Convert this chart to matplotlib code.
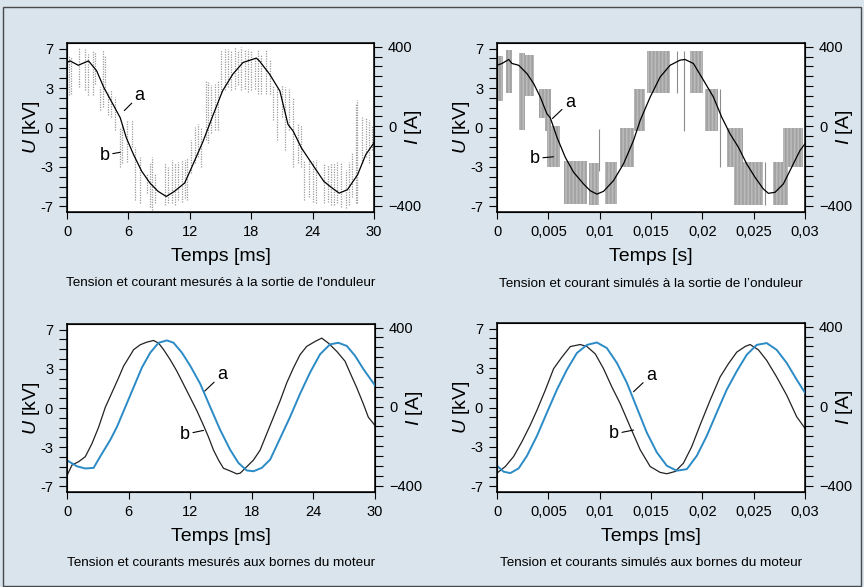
import numpy as np
import matplotlib.pyplot as plt
from matplotlib.patches import Rectangle
from matplotlib.ticker import MultipleLocator

plt.rcParams['font.family'] = ['Liberation Sans', 'DejaVu Sans']
plt.rcParams['mathtext.fontset'] = 'custom'
plt.rcParams['mathtext.it'] = 'Liberation Sans:italic'
plt.rcParams['mathtext.rm'] = 'Liberation Sans'
plt.rcParams['hatch.linewidth'] = 0.45
plt.rcParams['hatch.color'] = '#8c8c8c'

# ---------------- data ----------------
# panel 1 : measured at inverter output (time in ms)
t1_cur = [0, 0.3, 1.1, 2.1, 2.9, 3.6, 4.5, 5.2, 5.8, 6.5, 7.3, 8.1, 8.9, 9.7, 10.5,
          11.5, 12.3, 13.3, 14.3, 15.2, 16.2, 17.2, 18.5, 18.8, 19.8, 20.8, 21.6,
          22.1, 22.9, 24.0, 25.1, 25.9, 26.6, 27.4, 28.4, 29.2, 30]
i1_cur = [320, 328, 306, 328, 278, 194, 109, 42, -59, -143, -227, -286, -328, -354, -328,
          -286, -194, -76, 59, 177, 261, 320, 342, 328, 261, 177, 8,
          -25, -109, -194, -278, -311, -337, -320, -244, -143, -84]
t1_bar = [0.23, 0.42, 1.20, 1.78, 2.01, 2.50, 2.69, 3.24, 3.50, 3.73, 3.96, 4.31, 4.70,
          5.19, 5.42, 5.84, 6.32, 6.65, 7.14, 7.78, 8.11, 8.34, 8.60, 9.57, 9.89, 10.22,
          10.54, 10.87, 11.19, 11.51, 11.77, 12.16, 12.55, 12.81, 13.14, 13.62, 13.78,
          14.11, 14.43, 14.76, 15.08, 15.41, 15.73, 16.06, 16.38, 16.70, 17.03, 17.35,
          17.68, 18.00, 18.33, 18.65, 18.98, 19.46, 19.79, 20.17, 20.50, 21.02, 21.34,
          21.73, 22.06, 22.54, 22.87, 23.19, 23.68, 24.00, 24.33, 25.14, 25.46, 25.79,
          26.11, 26.43, 26.76, 27.25, 27.57, 27.89, 28.22, 28.38, 28.87, 29.19, 29.52, 29.84]
u1_hi = [6.40, 6.25, 7.14, 6.99, 6.55, 6.84, 6.70, 3.60, 6.84, 6.40, 3.16, 3.30, 2.71,
         0.06, 0.35, 0.65, 0.65, -1.71, -2.60, -4.07, -3.19, -2.60, -4.07, -3.19, -3.48, -2.89,
         -3.19, -3.04, -2.89, -2.89, -2.74, -1.12, 0.06, 0.35, 0.06, 4.19, 4.04,
         3.75, 3.89, 4.19, 6.84, 6.99, 6.99, 6.84, 7.14, 6.84, 7.14, 6.84,
         6.99, 6.84, 6.25, 6.84, 6.55, 6.84, 5.96, 3.75, 3.60, 3.75, 3.60,
         3.45, 2.71, 0.35, 0.21, -2.89, -2.89, -2.89, -2.89, -3.19, -3.33, -3.19,
         -3.19, -3.04, -3.19, -3.78, -3.04, -2.30, 2.12, 2.42, 0.94, 0.94, 0.65, 0.21]
u1_lo = [2.86, 3.01, 3.60, 3.30, 2.86, 2.86, 3.89, 1.53, 1.83, 3.30, 1.09, 0.94, -0.24,
         -3.48, -3.19, -3.04, -1.71, -6.43, -6.73, -5.84, -7.02, -7.32, -6.73, -6.87, -6.73, -6.73,
         -6.87, -6.43, -6.58, -6.28, -6.43, -4.07, -3.19, -2.60, -3.48, -1.12, -1.42,
         -0.53, -0.24, -0.24, 3.16, 3.30, 3.60, 3.30, 3.45, 3.75, 3.30, 3.45,
         3.16, 3.30, 3.45, 3.01, 3.01, 3.01, 3.01, 0.65, -1.12, 0.94, -2.01,
         -0.24, -3.48, -3.19, -3.48, -6.43, -6.14, -6.58, -6.73, -6.73, -6.58, -6.87,
         -6.87, -6.73, -7.02, -7.17, -6.87, -6.14, -6.73, -6.73, -3.19, -2.60, -3.19, -2.01]

# panel 2 : simulated at inverter output (time in s)
t2_cur = [0, 0.00049, 0.00114, 0.00146, 0.00211, 0.00292, 0.00357, 0.00422, 0.00486,
          0.00519, 0.00584, 0.00665, 0.00746, 0.00843, 0.00908, 0.00973, 0.01038,
          0.01135, 0.01232, 0.0133, 0.01395, 0.01492, 0.01589, 0.01686, 0.01784,
          0.01832, 0.01913, 0.02011, 0.02108, 0.02189, 0.0227, 0.02351, 0.02432,
          0.02514, 0.02594, 0.02643, 0.02708, 0.02789, 0.0287, 0.02951, 0.03]
i2_cur = [306, 315, 335, 315, 306, 264, 214, 146, 62,
          42, -56, -157, -232, -291, -325, -342, -328,
          -274, -190, -72, 29, 146, 247, 306, 332,
          335, 315, 231, 146, 45, -39, -106, -190,
          -258, -316, -338, -333, -291, -207, -123, -89]
# voltage blocks: start, end, low, high
t2_blk_start = [0.0001, 0.00091, 0.00211, 0.00276, 0.00405, 0.00470, 0.00486, 0.00649,
                0.00892, 0.01054, 0.0120, 0.01336, 0.01459, 0.01881, 0.02027, 0.02238,
                0.02309, 0.02692, 0.02789]
t2_blk_end = [0.00058, 0.00146, 0.00276, 0.00357, 0.00470, 0.00525, 0.00616, 0.00876,
              0.00989, 0.01168, 0.0133, 0.01443, 0.01686, 0.02011, 0.02157, 0.02400,
              0.02594, 0.02838, 0.02984]
u2_blk_lo = [2.35, 3.09, -0.24, 2.79, 0.88, -0.29, -3.53, -6.82,
             -6.91, -6.76, -3.53, -0.29, 3.09, 3.09, -0.29, -3.53,
             -6.91, -6.91, -3.53]
u2_blk_hi = [6.32, 6.91, 6.62, 6.47, 3.38, 3.38, 0.15, -3.0,
             -3.18, -3.09, 0.0, 3.38, 6.76, 6.76, 3.38, 0.0,
             -3.09, -3.09, 0.0]
t2_line = [0.00989, 0.01751, 0.01823, 0.02173, 0.02611]
u2_line_lo = [-3.82, 3.09, -0.29, -3.53, -6.91]
u2_line_hi = [-0.15, 6.76, 6.76, 3.38, -3.09]

# panel 3 : measured at motor terminals (time in ms)
t3_u = [0, 0.49, 1.14, 1.78, 2.43, 3.08, 3.73, 4.38, 5.03, 5.51, 6.0, 6.49, 7.14, 7.78,
        8.43, 8.92, 9.41, 10.05, 10.7, 11.35, 12.0, 12.65, 13.3, 13.78, 14.27, 14.76,
        15.24, 15.89, 16.54, 16.87, 17.51, 18.16, 18.81, 19.46, 20.11, 20.76, 21.41,
        22.06, 22.7, 23.35, 24.16, 24.81, 25.46, 26.27, 27.08, 27.57, 28.22, 28.87,
        29.35, 30]
u3 = [-6.03, -5.09, -4.79, -4.35, -3.18, -1.71, 0.06, 1.38, 2.71, 3.74, 4.47, 5.21, 5.65,
      5.88, 6.03, 5.79, 5.21, 4.32, 3.29, 2.12, 0.94, -0.24, -1.56, -2.59, -3.76, -4.65,
      -5.38, -5.62, -5.88, -5.82, -5.24, -4.65, -3.76, -2.29, -0.82, 0.65, 2.26,
      3.59, 4.76, 5.5, 5.94, 6.24, 5.79, 5.06, 4.18, 3.15, 1.82, 0.35, -0.82, -1.56]
t3_i = [0, 0.97, 1.78, 2.59, 3.24, 4.22, 4.87, 5.68, 6.49, 7.3, 8.11, 8.92, 9.73, 10.38,
        11.19, 12.0, 12.98, 13.95, 14.92, 15.89, 16.7, 17.51, 18.16, 18.97, 19.79,
        20.76, 21.73, 22.7, 23.68, 24.65, 25.62, 26.43, 27.25, 28.06, 28.87, 30]
i3 = [-272, -302, -313, -310, -252, -168, -102, -2, 98, 198, 273, 323, 335, 323,
      273, 207, 115, -2, -118, -218, -285, -323, -327, -310, -268,
      -160, -52, 65, 173, 265, 315, 323, 307, 257, 190, 107]

# panel 4 : simulated at motor terminals (time in s)
t4_u = [0, 0.00081, 0.00162, 0.00243, 0.00324, 0.00389, 0.0047, 0.00551, 0.00632,
        0.00714, 0.00811, 0.00876, 0.00957, 0.01038, 0.01119, 0.012, 0.01297, 0.01395,
        0.01492, 0.01589, 0.01654, 0.01735, 0.01816, 0.01897, 0.01978, 0.02076,
        0.02173, 0.02254, 0.02335, 0.02416, 0.02465, 0.02546, 0.02627, 0.02724,
        0.02822, 0.02919, 0.03]
u4 = [-5.82, -5.24, -4.35, -3.03, -1.56, -0.24, 1.53, 3.44, 4.47,
      5.41, 5.59, 5.41, 4.76, 3.44, 1.82, 0.35, -1.71, -3.76,
      -5.24, -5.76, -5.88, -5.68, -4.94, -3.47, -1.56, 0.65,
      2.71, 3.88, 4.91, 5.41, 5.59, 5.12, 4.18, 2.71,
      1.09, -0.82, -1.85]
t4_i = [0, 0.00065, 0.0013, 0.00211, 0.00292, 0.00389, 0.00486, 0.00584, 0.00681,
        0.00778, 0.00876, 0.00973, 0.0107, 0.01168, 0.01265, 0.01362, 0.01459, 0.01557,
        0.01654, 0.01751, 0.01849, 0.01946, 0.02043, 0.0214, 0.02238, 0.02335,
        0.02432, 0.0253, 0.02627, 0.02724, 0.02822, 0.02919, 0.03]
i4 = [-300, -330, -337, -313, -250, -150, -33, 83, 183,
      267, 308, 320, 292, 217, 117, -8, -133, -233,
      -300, -325, -317, -250, -150, -33, 83, 175,
      258, 308, 317, 283, 217, 133, 67]

ms_ticks = [0, 6, 12, 18, 24, 30]
ms_labels = ['0', '6', '12', '18', '24', '30']
s_ticks = [0, 0.005, 0.01, 0.015, 0.02, 0.025, 0.03]
s_labels = ['0', '0,005', '0,01', '0,015', '0,02', '0,025', '0,03']
u_ticks = [7, 3.5, 0, -3.5, -7]
u_labels = ['7', '3', '0', '-3', '-7']
i_ticks = [400, 0, -400]
i_labels = ['400', '0', '\u2212400']

subtitles = ["Tension et courant mesurés à la sortie de l'onduleur",
             "Tension et courant simulés à la sortie de l’onduleur",
             "Tension et courants mesurés aux bornes du moteur",
             "Tension et courants simulés aux bornes du moteur"]

BLUE = '#2b8bc6'
W, H = 864, 587


def px_axes(left, top, right, bottom):
    return fig.add_axes([left / W, 1 - bottom / H, (right - left) / W, (bottom - top) / H])


def setup(ax, xlim, xticks, xlabels, xlabel):
    ax.set_xlim(xlim)
    ax.set_ylim(-7.5, 7.5)
    ax.set_xticks(xticks)
    ax.set_xticklabels(xlabels)
    ax.set_yticks(u_ticks)
    ax.set_yticklabels(u_labels)
    ax.yaxis.set_minor_locator(MultipleLocator(0.875))
    ax.tick_params(axis='y', which='both', direction='out', length=6, width=0.8,
                   labelsize=10.5, pad=4)
    ax.tick_params(axis='x', direction='out', length=5, width=0.8, labelsize=10.5, pad=4)
    ax.set_xlabel(xlabel, fontsize=14)
    ax.xaxis.set_label_coords(0.5, -0.215)
    ax.set_ylabel(r'$U$ [kV]', fontsize=14)
    ax.yaxis.set_label_coords(-0.08, 0.5)
    for s in ax.spines.values():
        s.set_linewidth(1.1)
    tw = ax.twinx()
    tw.set_ylim(-432, 418)
    tw.set_yticks(i_ticks)
    tw.set_yticklabels(i_labels)
    tw.yaxis.set_minor_locator(MultipleLocator(50))
    tw.tick_params(axis='y', which='both', direction='out', length=6, width=0.8,
                   labelsize=10.5, pad=4)
    tw.set_ylabel(r'$I$ [A]', fontsize=14)
    tw.yaxis.set_label_coords(1.095, 0.5)
    return tw


def label_ab(ax, xa, ya, xta, yta, xb, yb, xtb, ytb):
    ax.annotate('a', xy=(xa, ya), xytext=(xta, yta), fontsize=13, ha='left', va='bottom',
                arrowprops=dict(arrowstyle='-', lw=0.8, color='black', shrinkA=0, shrinkB=0))
    ax.annotate('b', xy=(xb, yb), xytext=(xtb, ytb), fontsize=13, ha='right', va='bottom',
                arrowprops=dict(arrowstyle='-', lw=0.8, color='black', shrinkA=0, shrinkB=0))


fig = plt.figure(figsize=(8.64, 5.87), dpi=100)
fig.patch.set_facecolor('#d9e4ed')
fig.add_artist(Rectangle((3 / W, 1 - 586 / H), (861 - 3) / W, (586 - 7) / H,
                         transform=fig.transFigure, fill=False, ec='#4a4a4a', lw=1.0))

# ---- panel 1 ----
ax1 = px_axes(67, 43, 374, 212)
tw1 = setup(ax1, (0, 30), ms_ticks, ms_labels, 'Temps [ms]')
ax1.vlines(t1_bar, u1_lo, u1_hi, colors='#9a9a9a', linewidth=0.9, linestyles=(0, (1, 1)))
tw1.plot(t1_cur, i1_cur, color='black', lw=0.9)
label_ab(ax1, 5.6, 1.5, 6.6, 2.1, 5.2, -2.2, 4.2, -3.2)

# ---- panel 2 ----
ax2 = px_axes(497, 43, 805, 212)
tw2 = setup(ax2, (0, 0.03), s_ticks, s_labels, 'Temps [s]')
ax2.bar(t2_blk_start, np.subtract(u2_blk_hi, u2_blk_lo), bottom=u2_blk_lo,
        width=np.subtract(t2_blk_end, t2_blk_start), align='edge',
        facecolor='#c9c9c9', edgecolor='#8c8c8c', hatch='|' * 12, linewidth=0)
ax2.vlines(t2_line, u2_line_lo, u2_line_hi, colors='#8c8c8c', linewidth=0.8)
tw2.plot(t2_cur, i2_cur, color='black', lw=0.9)
label_ab(ax2, 0.0054, 0.8, 0.0066, 1.5, 0.0055, -2.6, 0.0042, -3.5)

# ---- panel 3 ----
ax3 = px_axes(67, 324, 375, 492)
tw3 = setup(ax3, (0, 30), ms_ticks, ms_labels, 'Temps [ms]')
ax3.plot(t3_u, u3, color='#222222', lw=0.9)
tw3.plot(t3_i, i3, color=BLUE, lw=1.4)
label_ab(ax3, 13.4, 1.5, 14.6, 2.2, 13.3, -2.0, 12.0, -3.1)

# ---- panel 4 ----
ax4 = px_axes(497, 323, 805, 492)
tw4 = setup(ax4, (0, 0.03), s_ticks, s_labels, 'Temps [ms]')
ax4.plot(t4_u, u4, color='#222222', lw=0.9)
tw4.plot(t4_i, i4, color=BLUE, lw=1.4)
label_ab(ax4, 0.0133, 1.4, 0.0145, 2.1, 0.0133, -2.0, 0.0119, -3.1)

# subtitles under each panel
for (cx, cy), txt in zip([(221, 283), (651, 284), (221, 563), (651, 563)], subtitles):
    fig.text(cx / W, 1 - cy / H, txt, ha='center', va='center', fontsize=9.7)

plt.savefig('out.png', dpi=100, facecolor=fig.get_facecolor())
